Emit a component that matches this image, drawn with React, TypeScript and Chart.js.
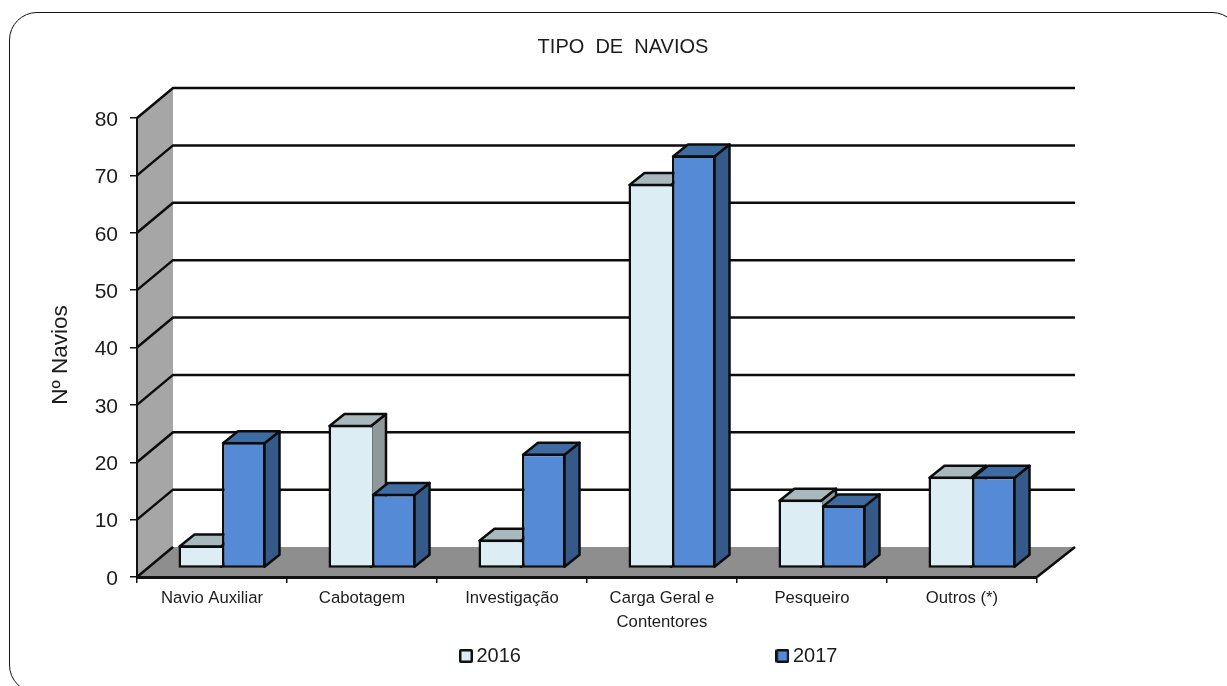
import React, { useEffect, useRef } from "react";
import { Chart, registerables } from "chart.js";

Chart.register(...registerables);

const categories = ["Navio Auxiliar", "Cabotagem", "Investigação", ["Carga Geral e", "Contentores"], "Pesqueiro", "Outros (*)"];
const values2016 = [4, 25, 5, 67, 12, 16];
const values2017 = [22, 13, 20, 72, 11, 16];
const seriesNames = ["2016", "2017"];
const titleText = "TIPO  DE  NAVIOS";
const yTitleText = "Nº Navios";

const FONT = "'Liberation Sans', Arial, sans-serif";
const INK = "#1c1c1c";
const LINE = "#0c0c0c";
const colors2016 = { front: "#dcedf4", top: "#a9b8bc", side: "#8e999c" };
const colors2017 = { front: "#558ad6", top: "#3f6ba3", side: "#355a8a" };

const WALL_DX = 36;
const WALL_DY = 30;
const BAR_DX = 10;
const BAR_DY = -8.5;
const DEPTH_X = 15;
const DEPTH_Y = 12;
const LEGEND_PADDING = 261;

function swatch(color: string) {
  const c = document.createElement("canvas");
  c.width = 14;
  c.height = 14;
  const g = c.getContext("2d")!;
  g.fillStyle = "#111";
  g.beginPath();
  g.roundRect(0, 0, 14, 14, 2);
  g.fill();
  g.fillStyle = color;
  g.fillRect(2.5, 2.5, 9, 9);
  return c;
}

function poly(ctx: CanvasRenderingContext2D, pts: number[][], fill?: string, stroke?: boolean) {
  ctx.beginPath();
  pts.forEach((p, i) => (i ? ctx.lineTo(p[0], p[1]) : ctx.moveTo(p[0], p[1])));
  ctx.closePath();
  if (fill) {
    ctx.fillStyle = fill;
    ctx.fill();
  }
  if (stroke) ctx.stroke();
}

function drawDepth(ctx: CanvasRenderingContext2D, meta: any, col: { top: string; side: string }) {
  ctx.strokeStyle = LINE;
  ctx.lineWidth = 2.5;
  ctx.lineJoin = "round";
  meta.data.forEach((el: any) => {
    const l = el.x - el.width / 2;
    const r = el.x + el.width / 2;
    const t = el.y + 1;
    const b = el.base - 1;
    poly(ctx, [[r - 1, t], [r - 1 + DEPTH_X, t - DEPTH_Y], [r - 1 + DEPTH_X, b - DEPTH_Y], [r - 1, b]], col.side, true);
    poly(ctx, [[l + 1, t], [l + 1 + DEPTH_X, t - DEPTH_Y], [r - 1 + DEPTH_X, t - DEPTH_Y], [r - 1, t]], col.top, true);
  });
}

const depthPlugin = {
  id: "depth3d",
  afterLayout(chart: any) {
    if (chart.titleBlock) {
      chart.titleBlock.left = 0;
      chart.titleBlock.right = 1246;
    }
    if (chart.legend) {
      chart.legend.left = 465.5 - LEGEND_PADDING;
      chart.legend.right = 1227;
      chart.legend.top = 646 - LEGEND_PADDING;
    }
  },
  beforeDraw(chart: any) {
    const { ctx, chartArea: a, scales } = chart;
    const y = scales.y;
    const y0 = y.getPixelForValue(0);
    const yTop = y.getPixelForValue(80);
    ctx.save();
    poly(ctx, [[a.left, y0], [a.left + WALL_DX, y0 - WALL_DY], [a.left + WALL_DX, yTop - WALL_DY], [a.left, yTop]], "#a6a6a6");
    poly(ctx, [[a.left, y0], [a.left + WALL_DX, y0 - WALL_DY], [a.right + WALL_DX + 2, y0 - WALL_DY], [a.right, y0]], "#8e8e8e");
    ctx.strokeStyle = LINE;
    ctx.lineWidth = 2.5;
    y.ticks.forEach((tick: any) => {
      const p = y.getPixelForValue(tick.value);
      ctx.beginPath();
      ctx.moveTo(a.left, p);
      ctx.lineTo(a.left + WALL_DX, p - WALL_DY);
      if (tick.value > 0) ctx.lineTo(a.right + WALL_DX + 2, p - WALL_DY);
      ctx.stroke();
    });
    ctx.beginPath();
    ctx.moveTo(a.right, y0);
    ctx.lineTo(a.right + WALL_DX + 2, y0 - WALL_DY);
    ctx.stroke();
    ctx.restore();
  },
  beforeDatasetsDraw(chart: any) {
    const { ctx } = chart;
    ctx.save();
    ctx.translate(BAR_DX, BAR_DY);
    const first = chart.getDatasetMeta(0);
    drawDepth(ctx, first, colors2016);
    first.data.forEach((el: any) => el.draw(ctx));
    drawDepth(ctx, chart.getDatasetMeta(1), colors2017);
  },
  beforeDatasetDraw(_chart: any, args: any) {
    if (args.index === 0) return false;
  },
  afterDatasetsDraw(chart: any) {
    chart.ctx.restore();
  },
  afterDraw(chart: any) {
    const { ctx } = chart;
    ctx.save();
    ctx.translate(61, 355);
    ctx.rotate(-Math.PI / 2);
    ctx.font = `22.5px ${FONT}`;
    ctx.fillStyle = INK;
    ctx.textAlign = "center";
    ctx.textBaseline = "middle";
    ctx.fillText(yTitleText, 0, 0);
    ctx.restore();
  },
};

export default function App() {
  const ref = useRef<HTMLCanvasElement>(null);
  useEffect(() => {
    const swatches = [swatch(colors2016.front), swatch(colors2017.front)];
    const chart = new Chart(ref.current!, {
      type: "bar",
      data: {
        labels: categories as any,
        datasets: [
          {
            label: seriesNames[0],
            data: values2016,
            backgroundColor: colors2016.front,
            borderColor: LINE,
            borderWidth: { left: 2.5, top: 2.5, bottom: 2.5, right: 0 },
            borderSkipped: false,
            barPercentage: 1,
            categoryPercentage: 87 / 150,
            clip: false,
          },
          {
            label: seriesNames[1],
            data: values2017,
            backgroundColor: colors2017.front,
            borderColor: LINE,
            borderWidth: 2.5,
            borderSkipped: false,
            barPercentage: 1,
            categoryPercentage: 87 / 150,
            clip: false,
          },
        ],
      } as any,
      options: {
        responsive: false,
        animation: false,
        events: [],
        layout: { padding: { left: 40, right: 190, top: 35, bottom: 0 } },
        plugins: {
          tooltip: { enabled: false },
          title: {
            display: true,
            text: titleText,
            color: INK,
            font: { family: FONT, size: 20, weight: "normal", lineHeight: 1.2 },
            padding: { top: 0, bottom: 59 },
          },
          legend: {
            display: true,
            position: "bottom",
            align: "start",
            maxHeight: 1,
            labels: {
              color: INK,
              font: { family: FONT, size: 20 },
              padding: LEGEND_PADDING,
              usePointStyle: true,
              pointStyleWidth: 1,
              boxHeight: 15,
              generateLabels: (c: any) =>
                Chart.defaults.plugins.legend.labels
                  .generateLabels(c)
                  .map((item: any, i: number) => ({ ...item, pointStyle: swatches[i], lineWidth: 0 })),
            },
          },
        },
        scales: {
          x: {
            afterFit: (s: any) => {
              s.height = 108;
            },
            grid: { drawOnChartArea: false, color: "#111", lineWidth: 1.5, tickLength: 6 },
            border: { color: "#111", width: 3 },
            ticks: {
              color: INK,
              maxRotation: 0,
              autoSkip: false,
              padding: 4,
              font: { family: FONT, size: 16.7, lineHeight: 1.4 },
            },
          },
          y: {
            min: 0,
            max: 80,
            afterFit: (s: any) => {
              s.width = 97;
            },
            grid: { drawOnChartArea: false, color: "#111", lineWidth: 1.5, tickLength: 7 },
            border: { color: "#111", width: 2 },
            ticks: {
              stepSize: 10,
              color: INK,
              padding: 12,
              labelOffset: 2,
              font: { family: FONT, size: 21 },
            },
          },
        },
      } as any,
      plugins: [depthPlugin as any],
    });
    return () => chart.destroy();
  }, []);

  return (
    <div style={{ position: "fixed", inset: 0, overflow: "hidden", background: "#fff" }}>
      <div
        style={{
          position: "absolute",
          left: 9,
          top: 12,
          width: 1231,
          height: 681,
          border: "1px solid #111",
          borderRadius: 28,
          boxSizing: "border-box",
        }}
      />
      <canvas
        ref={ref}
        width={1227}
        height={686}
        style={{ position: "absolute", left: 0, top: 0, display: "block", filter: "blur(0.4px)" }}
      />
    </div>
  );
}
